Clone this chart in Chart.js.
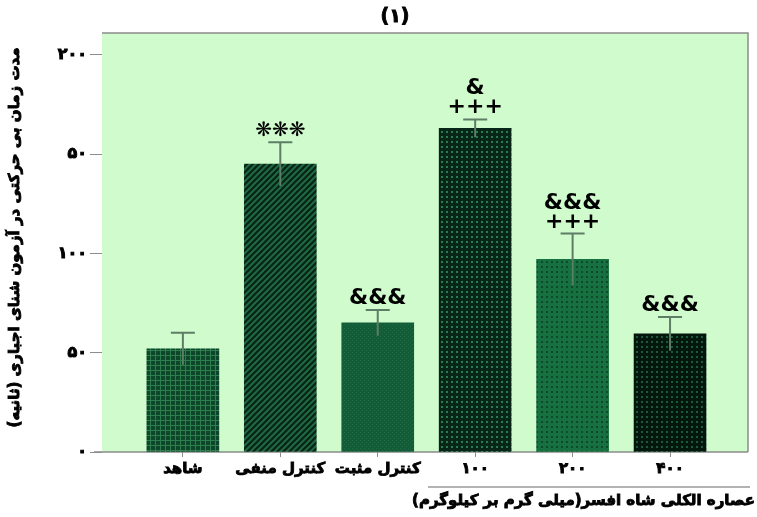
<!DOCTYPE html>
<html>
<head>
<meta charset="utf-8">
<script src="https://cdn.jsdelivr.net/npm/chart.js@4.4.1/dist/chart.umd.min.js"></script>
<style>
  html, body { margin: 0; padding: 0; background: #fff; }
  #wrap { width: 757px; height: 517px; }
</style>
</head>
<body>
<div id="wrap"><canvas id="chart" width="757" height="517"></canvas></div>
<script>
// data
const groups = ['شاهد', 'کنترل منفی', 'کنترل مثبت', '۱۰۰', '۲۰۰', '۴۰۰'];
const means = [52, 145, 65, 163, 97, 59.5];
const errors = [8, 11, 6.5, 4.5, 13, 8.5];
const marks = [[], ['❋❋❋'], ['&&&'], ['&', '+++'], ['&&&', '+++'], ['&&&']];
const yTickLabels = { 0: '۰', 50: '۵۰', 100: '۱۰۰', 150: '۵۰', 200: '۲۰۰' };
const chartTitle = '(۱)';
const yTitle = 'مدت زمان بی حرکتی در آزمون شنای اجباری (ثانیه)';
const groupTitle = 'عصاره الکلی شاه افسر(میلی گرم بر کیلوگرم)';

const FONT = "'DejaVu Sans', sans-serif";

// small tiles used as bar fills
function makePattern(base, fg, kind) {
    const s = kind === 'diag' ? 6 : (kind === 'fine' ? 4 : 5);
    const c = document.createElement('canvas');
    c.width = s; c.height = s;
    const g = c.getContext('2d');
    g.fillStyle = base;
    g.fillRect(0, 0, s, s);
    g.fillStyle = fg;
    g.strokeStyle = fg;
    if (kind === 'grid') {
        g.fillRect(0, 0, s, 1);
        g.fillRect(0, 0, 1, s);
    } else if (kind === 'diag') {
        g.lineWidth = 2;
        g.beginPath();
        g.moveTo(-1, s + 1); g.lineTo(s + 1, -1);
        g.moveTo(-1, 1); g.lineTo(1, -1);
        g.moveTo(s - 1, s + 1); g.lineTo(s + 1, s - 1);
        g.stroke();
    } else if (kind === 'fine') {
        g.fillRect(0, 0, 1, 1);
        g.fillRect(2, 2, 1, 1);
    } else if (kind === 'dots') {
        g.fillRect(1, 1, 2, 2);
    }
    return g.createPattern(c, 'repeat');
}

// fill + thin stroke so the Arabic glyphs look heavy
function boldText(c, t, x, y) {
    c.lineWidth = 0.9;
    c.strokeStyle = '#000';
    c.strokeText(t, x, y);
    c.fillText(t, x, y);
}

const ctx = document.getElementById('chart').getContext('2d');
const fills = [
    makePattern('#0d4629', '#2e7f50', 'grid'),
    makePattern('#082415', '#1f6a43', 'diag'),
    makePattern('#135c37', '#1c6d45', 'fine'),
    makePattern('#072617', '#2a7d53', 'dots'),
    makePattern('#17703f', '#0d4a2b', 'dots'),
    makePattern('#03170c', '#1b5a3a', 'dots')
];

// plot frame, background, titles, error bars, significance marks, group line
const decor = {
    id: 'decor',
    beforeDraw(chart) {
        const a = chart.chartArea, c = chart.ctx;
        c.save();
        c.fillStyle = '#d0fbcd';
        c.fillRect(a.left, a.top, a.right - a.left, a.bottom - a.top);
        c.strokeStyle = '#8c8c8c';
        c.lineWidth = 1.5;
        c.beginPath();
        c.moveTo(a.left, a.top); c.lineTo(a.right, a.top); c.lineTo(a.right, a.bottom);
        c.moveTo(a.left - 8, a.bottom); c.lineTo(a.right, a.bottom);
        c.stroke();
        c.fillStyle = '#000';
        c.font = 'bold 19px ' + FONT;
        c.textAlign = 'center';
        c.textBaseline = 'middle';
        boldText(c, chartTitle, (a.left + a.right) / 2 - 30, 17);
        // y-axis title
        c.translate(15, (a.top + a.bottom) / 2 - 5);
        c.rotate(-Math.PI / 2);
        c.font = 'bold 15px ' + FONT;
        boldText(c, yTitle, 0, 0);
        c.restore();
    },
    afterDatasetsDraw(chart) {
        const c = chart.ctx, x = chart.scales.x, y = chart.scales.y;
        c.save();
        means.forEach((m, i) => {
            const px = x.getPixelForValue(i);
            const top = y.getPixelForValue(m + errors[i]);
            const low = y.getPixelForValue(m - errors[i]);
            c.strokeStyle = '#5d7d66';
            c.lineWidth = 2;
            c.beginPath();
            c.moveTo(px, low); c.lineTo(px, top);
            c.moveTo(px - 12, top); c.lineTo(px + 12, top);
            c.stroke();
            c.fillStyle = '#000';
            c.textAlign = 'center';
            c.textBaseline = 'alphabetic';
            const lines = marks[i];
            lines.forEach((t, k) => {
                const base = top - 6 - (lines.length - 1 - k) * 19;
                c.font = (t.startsWith('❋') ? '20px ' : 'bold 22px ') + FONT;
                c.fillText(t, px, base);
            });
        });
        c.restore();
    },
    afterDraw(chart) {
        const c = chart.ctx;
        c.save();
        c.strokeStyle = '#9a9a9a';
        c.lineWidth = 1.5;
        c.beginPath();
        c.moveTo(428, 487); c.lineTo(750, 487);
        c.stroke();
        c.fillStyle = '#000';
        c.font = 'bold 15px ' + FONT;
        c.textAlign = 'right';
        c.textBaseline = 'middle';
        boldText(c, groupTitle, 755, 501);
        c.restore();
    }
};

new Chart(ctx, {
    type: 'bar',
    data: {
        datasets: [{
            data: means.map((v, i) => ({ x: i, y: v })),
            backgroundColor: fills,
            borderWidth: 0,
            barThickness: 72
        }]
    },
    options: {
        responsive: false,
        animation: false,
        layout: { padding: { top: 33, right: 9, left: 0, bottom: 0 } },
        plugins: { legend: { display: false }, tooltip: { enabled: false } },
        scales: {
            x: {
                type: 'linear',
                offset: false,
                min: -0.83,
                max: 5.8,
                afterBuildTicks(scale) {
                    scale.ticks = groups.map((g, i) => ({ value: i }));
                },
                afterFit(scale) { scale.height = 65; },
                border: { display: false },
                grid: { offset: false, drawOnChartArea: false, drawTicks: true, tickLength: 5, color: '#8c8c8c' },
                ticks: {
                    autoSkip: false,
                    maxRotation: 0,
                    padding: 3,
                    color: '#000',
                    textStrokeColor: '#000',
                    textStrokeWidth: 0.9,
                    font: { family: FONT, size: 15, weight: 'bold' },
                    callback: (v) => groups[v] ?? ''
                }
            },
            y: {
                min: 0,
                max: 211,
                afterFit(scale) { scale.width = 102; },
                border: { display: false },
                grid: { drawOnChartArea: false, drawTicks: true, tickLength: 12, color: '#8c8c8c' },
                ticks: {
                    stepSize: 50,
                    includeBounds: false,
                    padding: 3,
                    color: '#000',
                    textStrokeColor: '#000',
                    textStrokeWidth: 1,
                    font: { family: FONT, size: 16, weight: 'bold' },
                    callback: (v) => yTickLabels[v] ?? ''
                }
            }
        }
    },
    plugins: [decor]
});
</script>
</body>
</html>
